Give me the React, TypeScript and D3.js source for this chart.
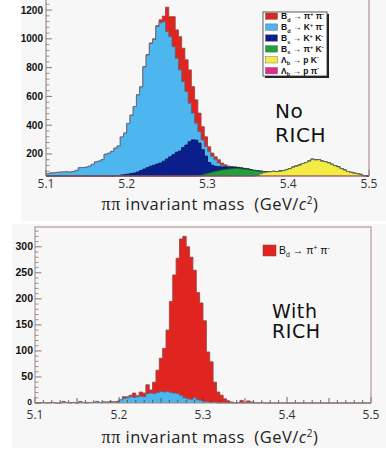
import React from "react";
import * as d3 from "d3";

// ---------- data ----------
const X_MIN = 5.1;
const X_MAX = 5.5;
const N_BINS = 100; // bin width 0.004 GeV
const xTickValues = [5.1, 5.2, 5.3, 5.4, 5.5];
const topYTicks = [200, 400, 600, 800, 1000, 1200];
const bottomYTicks = [0, 50, 100, 150, 200, 250, 300];
const TOP_Y_DOMAIN = [47, 1270];
const BOTTOM_Y_DOMAIN = [0, 338];

// Top panel ("No RICH") components, counts per bin, starting at a given bin
const topLbPPiStart = 70;
const topLbPPi = [2, 3, 3, 4, 4, 5, 4, 3, 3, 2, 2];

const topLbPKStart = 60;
const topLbPK = [20, 25, 30, 35, 40, 50, 62, 70, 74, 76, 76, 74, 77, 80, 86, 93, 104, 112, 119, 131,
  138, 150, 163, 158, 160, 150, 146, 138, 128, 118, 110, 98, 88, 78, 72, 66, 62, 56, 50, 47];

const topBsPiKStart = 40;
const topBsPiK = [10, 14, 18, 22, 27, 33, 40, 48, 55, 62, 68, 74, 80, 85, 89, 93, 96, 98, 100, 101,
  78, 70, 62, 53, 45, 32, 18, 8, 3, 2, 1, 1, 1];

const topBsKKStart = 20;
const topBsKK = [46, 48, 50, 54, 57, 60, 64, 68, 75, 85, 95, 105, 115, 122, 130, 137, 150, 165, 180, 195,
  202, 206, 227, 240, 258, 265, 256, 227, 175, 123, 72, 48, 34, 27, 21, 17, 12, 10, 6, 4, 4, 3, 3, 2, 1, 1];

const topBdKPiStart = 0;
const topBdKPi = [62, 68, 69, 72, 74, 75, 76, 74, 78, 86, 104, 106, 108, 115, 128, 145, 150, 160, 198, 205,
  172, 192, 205, 264, 288, 352, 406, 462, 535, 580, 710, 783, 853, 873, 955, 975, 968, 885, 835, 751,
  653, 564, 458, 372, 268, 186, 118, 81, 68, 67, 77, 61, 46, 25, 12, 5, 4, 2, 2, 1, 1, 1, 1];

const topBdPiPiStart = 28;
const topBdPiPi = [1, 2, 2, 3, 4, 5, 7, 20, 40, 170, 139, 208, 197, 231, 232, 220, 231, 184, 162, 128,
  91, 67, 33, 23, 20, 23, 15, 10, 4, 3, 3, 2, 2, 1, 1, 1];

// Bottom panel ("With RICH")
const bottomBdKPiStart = 0;
const bottomBdKPi = [0, 0, 1, 0, 0, 1, 0, 0, 2, 1, 0, 1, 0, 2, 1, 0, 1, 1, 2, 1, 2, 1, 2, 2, 1,
  6, 9, 10, 12, 11, 12, 13, 12, 18, 19, 18, 20, 22, 21, 22, 20, 19, 18, 15, 10, 8, 7, 10, 6, 5, 3, 2, 1, 1];

const bottomBdPiPiStart = 0;
const bottomBdPiPi = [0, 1, 0, 0, 1, 0, 0, 0, 1, 0, 1, 0, 0, 1, 0, 1, 0, 0, 1, 0, 0, 1, 1, 0, 2,
  0, 3, 2, 3, 8, 2, 8, 7, 17, 6, 22, 43, 64, 84, 118, 175, 227, 260, 300, 310,
  292, 273, 245, 206, 187, 155, 96, 78, 39, 21, 15, 8, 4, 2, 0, 1, 5, 1, 4, 2, 1, 0, 1];

const topLegendLabels = [
  "B_d → π^+ π^-",
  "B_d → K^+ π^-",
  "B_s → K^+ K^-",
  "B_s → π^+ K^-",
  "Λ_b → p K^-",
  "Λ_b → p π^-",
];
const bottomLegendLabels = ["B_d → π^+ π^-"];

// ---------- styles ----------
const COL = {
  red: "#e0241f",
  redLine: "#9a4a45",
  lblue: "#4db6ee",
  lblueLine: "#5b6d80",
  dblue: "#0b1f8c",
  dblueLine: "#07125a",
  green: "#1fa03c",
  greenLine: "#17602a",
  yellow: "#f4ec45",
  yellowLine: "#6d6d55",
  magenta: "#e02a8c",
  magentaLine: "#8a2050",
  axis: "#8a7772",
  panel: "#f7f7f7",
};

function expand(start: number, values: number[]): number[] {
  const out = new Array(N_BINS).fill(0);
  values.forEach((v, i) => {
    if (start + i < N_BINS) out[start + i] = v;
  });
  return out;
}

type Layer = { vals: number[]; fill: string; stroke: string };

function Stack({ layers, x, y, yMin }: { layers: Layer[]; x: any; y: any; yMin: number }) {
  const binW = (X_MAX - X_MIN) / N_BINS;
  const cums: number[][] = [];
  let acc = new Array(N_BINS).fill(0);
  layers.forEach((l) => {
    acc = acc.map((a, i) => a + l.vals[i]);
    cums.push(acc.slice());
  });
  const makePts = (cum: number[]) =>
    d3.range(N_BINS + 1).map((i) => [X_MIN + i * binW, cum[Math.min(i, N_BINS - 1)]] as [number, number]);
  const area = d3
    .area<[number, number]>()
    .x((d) => x(d[0]))
    .y0(y(yMin))
    .y1((d) => y(Math.max(yMin, d[1])))
    .curve(d3.curveStepAfter);
  const line = d3
    .line<[number, number]>()
    .x((d) => x(d[0]))
    .y((d) => y(Math.max(yMin, d[1])))
    .curve(d3.curveStepAfter);
  const order = d3.range(layers.length).reverse();
  return (
    <g>
      {order.map((k) => (
        <g key={k}>
          <path d={area(makePts(cums[k])) || ""} fill={layers[k].fill} />
          <path d={line(makePts(cums[k])) || ""} fill="none" stroke={layers[k].stroke} strokeWidth={0.9} />
        </g>
      ))}
    </g>
  );
}

function RichLabel({ text, x, y, size, weight }: { text: string; x: number; y: number; size: number; weight?: string }) {
  const segs: { t: string; k: "n" | "sub" | "sup" }[] = [];
  let buf = "";
  for (let i = 0; i < text.length; i++) {
    const c = text[i];
    if ((c === "_" || c === "^") && i + 1 < text.length) {
      if (buf) segs.push({ t: buf, k: "n" });
      buf = "";
      segs.push({ t: text[i + 1], k: c === "_" ? "sub" : "sup" });
      i++;
    } else buf += c;
  }
  if (buf) segs.push({ t: buf, k: "n" });
  let cur = 0;
  return (
    <text x={x} y={y} fontSize={size} fontFamily="'Liberation Sans', Arial, sans-serif" fontWeight={weight || "normal"} fill="#111">
      {segs.map((s, i) => {
        const target = s.k === "sub" ? size * 0.3 : s.k === "sup" ? -size * 0.4 : 0;
        const dy = target - cur;
        cur = target;
        return (
          <tspan key={i} dy={dy} fontSize={s.k === "n" ? size : size * 0.65}>
            {s.t}
          </tspan>
        );
      })}
    </text>
  );
}

function AxisTitle({ cx, y }: { cx: number; y: number }) {
  return (
    <text x={cx} y={y} textAnchor="middle" fontSize={16.5} letterSpacing={0.5} fontFamily="'Open Sans', sans-serif" fill="#222" style={{ whiteSpace: "pre" }}>
      <tspan fontFamily="'Liberation Serif', serif" fontSize={18}>ππ</tspan>
      <tspan>{" invariant mass  (GeV/"}</tspan>
      <tspan fontStyle="italic">c</tspan>
      <tspan fontSize={10} dy={-6}>2</tspan>
      <tspan dy={6}>)</tspan>
    </text>
  );
}

function XTicks({ x, yBase }: { x: any; yBase: number }) {
  const ticks = d3.range(0, 41).map((i) => X_MIN + i * 0.01);
  return (
    <g>
      {ticks.map((t, i) => {
        const len = i % 10 === 0 ? 6 : i % 5 === 0 ? 5 : 3;
        return <line key={i} x1={x(t)} x2={x(t)} y1={yBase} y2={yBase - len} stroke="#444" strokeWidth={0.8} />;
      })}
    </g>
  );
}

export default function App() {
  const xTop = d3.scaleLinear().domain([X_MIN, X_MAX]).range([46, 369]);
  const yTop = d3.scaleLinear().domain(TOP_Y_DOMAIN).range([176, 0]);
  const xBot = d3.scaleLinear().domain([X_MIN, X_MAX]).range([35, 371]);
  const yBot = d3.scaleLinear().domain(BOTTOM_Y_DOMAIN).range([403, 227]);

  const topLayers: Layer[] = [
    { vals: expand(topLbPPiStart, topLbPPi), fill: COL.magenta, stroke: COL.magentaLine },
    { vals: expand(topLbPKStart, topLbPK), fill: COL.yellow, stroke: COL.yellowLine },
    { vals: expand(topBsPiKStart, topBsPiK), fill: COL.green, stroke: COL.greenLine },
    { vals: expand(topBsKKStart, topBsKK), fill: COL.dblue, stroke: COL.dblueLine },
    { vals: expand(topBdKPiStart, topBdKPi), fill: COL.lblue, stroke: COL.lblueLine },
    { vals: expand(topBdPiPiStart, topBdPiPi), fill: COL.red, stroke: COL.redLine },
  ];
  const bottomLayers: Layer[] = [
    { vals: expand(bottomBdKPiStart, bottomBdKPi), fill: COL.lblue, stroke: COL.lblueLine },
    { vals: expand(bottomBdPiPiStart, bottomBdPiPi), fill: COL.red, stroke: COL.redLine },
  ];
  const legendColors = [COL.red, COL.lblue, COL.dblue, COL.green, COL.yellow, COL.magenta];

  const topMinor = d3.range(80, 1270, 40).filter((v) => v % 200 !== 0);
  const botMinor = d3.range(10, 338, 10).filter((v) => v % 50 !== 0);

  return (
    <svg width={386} height={452} style={{ position: "absolute", left: 0, top: 0, background: "#fff" }}>
      {/* panels */}
      <rect x={21} y={0} width={365} height={221} fill={COL.panel} />
      <rect x={12} y={224} width={374} height={224} fill={COL.panel} />

      {/* ===== TOP CHART ===== */}
      <XTicks x={xTop} yBase={176} />
      <Stack layers={topLayers} x={xTop} y={yTop} yMin={TOP_Y_DOMAIN[0]} />
      <line x1={46} x2={46} y1={0} y2={176} stroke={COL.axis} strokeWidth={1} />
      <line x1={369} x2={369} y1={0} y2={176} stroke="#a07f78" strokeWidth={1} />
      <line x1={46} x2={369} y1={176} y2={176} stroke={COL.axis} strokeWidth={0.6} />
      {topYTicks.map((t) => (
        <g key={t}>
          <line x1={46} x2={52} y1={yTop(t)} y2={yTop(t)} stroke={COL.axis} />
          <text x={43} y={yTop(t) + 3.5} textAnchor="end" fontSize={10} fontWeight="bold" fontFamily="'Liberation Sans', Arial, sans-serif" fill="#111">
            {t}
          </text>
        </g>
      ))}
      {topMinor.map((t) => (
        <line key={t} x1={46} x2={49.5} y1={yTop(t)} y2={yTop(t)} stroke={COL.axis} strokeWidth={0.8} />
      ))}
      {xTickValues.map((t) => (
        <text key={t} x={xTop(t)} y={187.5} textAnchor="middle" fontSize={12} fontFamily="'Open Sans', sans-serif" fill="#333">
          {t.toFixed(1)}
        </text>
      ))}
      <AxisTitle cx={210} y={210} />

      {/* top legend */}
      <rect x={265} y={14} width={64} height={64} fill="#222" />
      <rect x={263} y={12} width={64} height={64} fill="#fff" stroke="#333" strokeWidth={0.8} />
      {topLegendLabels.map((lab, i) => {
        const cy = 16.2 + i * 10.9;
        return (
          <g key={lab}>
            <rect x={265.5} y={cy - 3.2} width={12} height={6.4} fill={legendColors[i]} stroke="#555" strokeWidth={0.4} />
            <RichLabel text={lab} x={281} y={cy + 3} size={8.5} weight="bold" />
          </g>
        );
      })}
      <text fontFamily="'DejaVu Sans', Verdana, sans-serif" fontSize={20} letterSpacing={0.6} fill="#111">
        <tspan x={275} y={118}>No</tspan>
        <tspan x={275} y={142}>RICH</tspan>
      </text>

      {/* ===== BOTTOM CHART ===== */}
      <Stack layers={bottomLayers} x={xBot} y={yBot} yMin={BOTTOM_Y_DOMAIN[0]} />
      <XTicks x={xBot} yBase={403} />
      <rect x={35} y={227} width={336} height={176} fill="none" stroke="#a08a84" strokeWidth={1} />
      {bottomYTicks.map((t) => (
        <g key={t}>
          <line x1={35} x2={41.5} y1={yBot(t)} y2={yBot(t)} stroke={COL.axis} />
          <text x={t === 0 ? 32 : 33} y={yBot(t) + (t === 0 ? 1.5 : 3.5)} textAnchor="end" fontSize={t === 0 ? 8.5 : 10.5} fontWeight="bold" fontFamily="'Liberation Sans', Arial, sans-serif" fill="#111">
            {t}
          </text>
        </g>
      ))}
      {botMinor.map((t) => (
        <line key={t} x1={35} x2={38.5} y1={yBot(t)} y2={yBot(t)} stroke={COL.axis} strokeWidth={0.8} />
      ))}
      {xTickValues.map((t) => (
        <text key={t} x={xBot(t)} y={419} textAnchor="middle" fontSize={12} fontFamily="'Open Sans', sans-serif" fill="#333">
          {t.toFixed(1)}
        </text>
      ))}
      <AxisTitle cx={210} y={443} />

      {/* bottom legend */}
      {bottomLegendLabels.map((lab, i) => (
        <g key={lab}>
          <rect x={263} y={245 + i * 12} width={13} height={11} fill={COL.red} stroke="#8a3a35" strokeWidth={0.5} />
          <RichLabel text={lab} x={279} y={254 + i * 12} size={10.5} />
        </g>
      ))}
      <text fontFamily="'DejaVu Sans', Verdana, sans-serif" fontSize={19} letterSpacing={0.6} fill="#111">
        <tspan x={272} y={318}>With</tspan>
        <tspan x={272} y={338}>RICH</tspan>
      </text>
    </svg>
  );
}
